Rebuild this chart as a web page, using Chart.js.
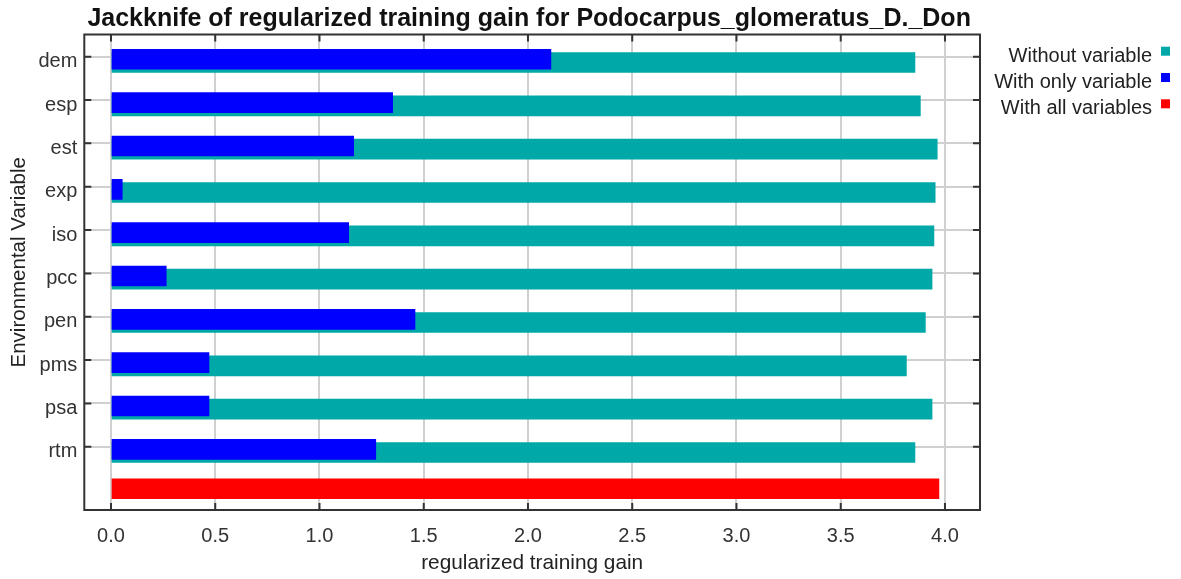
<!DOCTYPE html>
<html><head><meta charset="utf-8">
<style>html,body{margin:0;padding:0;background:#fff;}#wrap{width:1181px;height:579px;}</style>
<script src="https://cdn.jsdelivr.net/npm/chart.js@4.4.1/dist/chart.umd.min.js"></script>
</head><body><div id="wrap"><canvas id="c" width="1181" height="579"></canvas></div>
<script>
const chartTitle = 'Jackknife of regularized training gain for Podocarpus_glomeratus_D._Don';
const xAxisTitle = 'regularized training gain';
const yAxisTitle = 'Environmental Variable';
const categories = ['dem','esp','est','exp','iso','pcc','pen','pms','psa','rtm'];
const withoutVariable = [3.856,3.882,3.963,3.953,3.947,3.938,3.906,3.815,3.938,3.856];
const withOnlyVariable = [2.110,1.351,1.164,0.054,1.140,0.265,1.458,0.470,0.470,1.270];
const withAllVariables = [3.971];
const xTicks = [0.0,0.5,1.0,1.5,2.0,2.5,3.0,3.5,4.0];
const seriesLabels = ['Without variable','With only variable','With all variables'];
const seriesColors = ['#00A8A8','#0000FF','#FF0000'];

const FONT = '"Liberation Sans", Arial, sans-serif';
const Y_MIN = -0.512, Y_MAX = 10.46;

const decor = {
  id: 'decor',
  beforeDraw(chart) {
    const ctx = chart.ctx;
    ctx.save(); ctx.fillStyle = '#fff'; ctx.fillRect(0, 0, chart.width, chart.height); ctx.restore();
  },
  afterDraw(chart) {
    const {ctx, chartArea: a, scales} = chart;
    ctx.save();
    ctx.strokeStyle = '#333'; ctx.lineWidth = 2;
    ctx.strokeRect(a.left, a.top, a.right - a.left, a.bottom - a.top);
    ctx.beginPath();
    scales.x.ticks.forEach(t => {
      const px = scales.x.getPixelForValue(t.value);
      ctx.moveTo(px, a.bottom); ctx.lineTo(px, a.bottom - 7);
      ctx.moveTo(px, a.top); ctx.lineTo(px, a.top + 7);
    });
    scales.y.ticks.forEach(t => {
      const py = scales.y.getPixelForValue(t.value);
      ctx.moveTo(a.left, py); ctx.lineTo(a.left + 7, py);
      ctx.moveTo(a.right, py); ctx.lineTo(a.right - 7, py);
    });
    ctx.stroke();
    // title
    ctx.fillStyle = '#111';
    ctx.font = 'bold 25px ' + FONT;
    ctx.textAlign = 'center'; ctx.textBaseline = 'alphabetic';
    ctx.fillText(chartTitle, (a.left + a.right) / 2 - 3, 26);
    // y axis title
    ctx.save();
    ctx.translate(19, (a.top + a.bottom) / 2 - 10);
    ctx.rotate(-Math.PI / 2);
    ctx.font = '20.5px ' + FONT;
    ctx.fillStyle = '#222';
    ctx.textBaseline = 'middle';
    ctx.fillText(yAxisTitle, 0, 0);
    ctx.restore();
    // legend
    ctx.font = '20px ' + FONT;
    ctx.textAlign = 'right';
    chart.data.datasets.forEach((ds, i) => {
      const base = 61.7 + i * 26.3;
      ctx.fillStyle = '#222';
      ctx.fillText(ds.label, 1152, base);
      ctx.fillStyle = ds.backgroundColor;
      ctx.fillRect(1161, base - 15, 9, 9);
    });
    ctx.restore();
  }
};

const shiftedAxis = (shift) => ({
  type: 'linear', display: false, reverse: true, offset: false,
  grid: {offset: false},
  min: Y_MIN - shift, max: Y_MAX - shift
});

new Chart(document.getElementById('c'), {
  type: 'bar',
  data: {
    datasets: [
      {
        label: seriesLabels[0], backgroundColor: seriesColors[0], yAxisID: 'yWithout', order: 2,
        data: withoutVariable.map((v, i) => ({x: v, y: i}))
      },
      {
        label: seriesLabels[1], backgroundColor: seriesColors[1], yAxisID: 'yOnly', order: 1,
        data: withOnlyVariable.map((v, i) => ({x: v, y: i}))
      },
      {
        label: seriesLabels[2], backgroundColor: seriesColors[2], yAxisID: 'yAll', order: 3,
        data: withAllVariables.map((v) => ({x: v, y: categories.length}))
      }
    ]
  },
  options: {
    indexAxis: 'y',
    responsive: false,
    animation: false,
    devicePixelRatio: 1,
    layout: {padding: {top: 34.5, right: 201, left: 0, bottom: 0}},
    datasets: {bar: {barThickness: 20, grouped: false, borderWidth: 0}},
    plugins: {legend: {display: false}, title: {display: false}, tooltip: {enabled: false}},
    scales: {
      x: {
        type: 'linear', position: 'bottom', min: -0.128, max: 4.168, offset: false,
        afterBuildTicks: (s) => { s.ticks = xTicks.map(v => ({value: v})); },
        afterFit: (s) => { s.height = 69; },
        grid: {color: '#d0d0d0', lineWidth: 2, drawTicks: false, offset: false},
        border: {display: false},
        ticks: {
          autoSkip: false, maxRotation: 0, padding: 14, color: '#333',
          font: {family: FONT, size: 20},
          callback: (v) => Number(v).toFixed(1)
        },
        title: {display: true, text: xAxisTitle, color: '#222', font: {family: FONT, size: 20.8}, padding: {top: 0, bottom: 3.5}}
      },
      y: {
        type: 'linear', position: 'left', reverse: true, min: Y_MIN, max: Y_MAX, offset: false,
        afterBuildTicks: (s) => { s.ticks = categories.map((c, i) => ({value: i})); },
        afterFit: (s) => { s.width = 84.3; },
        grid: {color: '#d0d0d0', lineWidth: 2, drawTicks: false, offset: false},
        border: {display: false},
        ticks: {
          autoSkip: false, padding: 7, color: '#333', labelOffset: 5,
          font: {family: FONT, size: 20},
          callback: (v) => categories[v]
        },
        title: {display: false}
      },
      yWithout: shiftedAxis(0.134),
      yOnly: shiftedAxis(0.06),
      yAll: shiftedAxis(-0.03)
    }
  },
  plugins: [decor]
});
</script>
</body></html>
